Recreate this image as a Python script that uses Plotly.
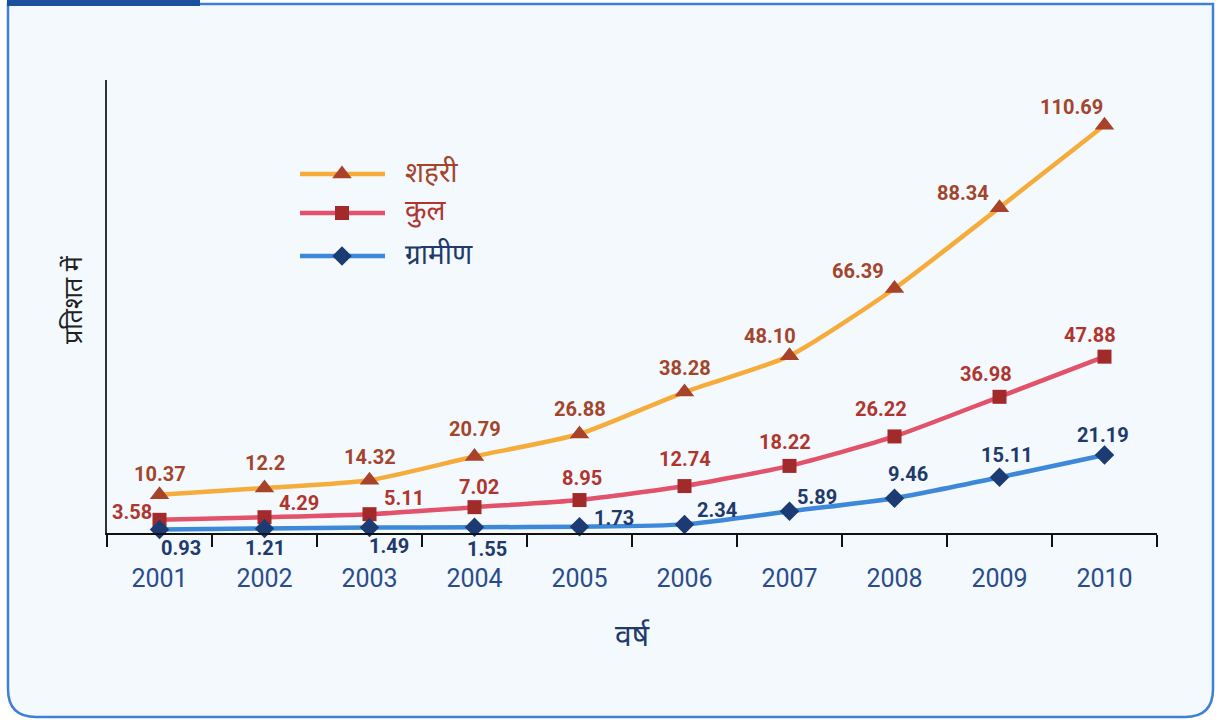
import plotly.graph_objects as go

years = ["2001", "2002", "2003", "2004", "2005", "2006", "2007", "2008", "2009", "2010"]
shahri = [10.37, 12.2, 14.32, 20.79, 26.88, 38.28, 48.10, 66.39, 88.34, 110.69]
kul = [3.58, 4.29, 5.11, 7.02, 8.95, 12.74, 18.22, 26.22, 36.98, 47.88]
gramin = [0.93, 1.21, 1.49, 1.55, 1.73, 2.34, 5.89, 9.46, 15.11, 21.19]
shahri_txt = ["10.37", "12.2", "14.32", "20.79", "26.88", "38.28", "48.10", "66.39", "88.34", "110.69"]
kul_txt = ["3.58", "4.29", "5.11", "7.02", "8.95", "12.74", "18.22", "26.22", "36.98", "47.88"]
gramin_txt = ["0.93", "1.21", "1.49", "1.55", "1.73", "2.34", "5.89", "9.46", "15.11", "21.19"]
names = ["शहरी", "कुल", "ग्रामीण"]

# label offsets (pixels) relative to markers
shahri_off = [(0, 21), (0, 25), (0, 23), (0, 27), (0, 25), (0, 24), (-20, 20), (-37, 17), (-37, 15), (-33, 18)]
kul_off = [(-28, 8), (34, 14), (34, 16), (4, 20), (2, 22), (0, 27), (-5, 24), (-14, 27), (-14, 23), (-15, 22)]
gramin_off = [(21, -18), (0, -19), (19, -18), (12, -22), (34, 9), (32, 14), (27, 14), (13, 24), (7, 22), (-2, 20)]

C_SH_LINE, C_SH_MK, C_SH_TXT = "#f6ac3a", "#a8432a", "#a3452c"
C_K_LINE, C_K_MK, C_K_TXT = "#e2526a", "#a32a2a", "#b0352f"
C_G_LINE, C_G_MK, C_G_TXT = "#3d88d8", "#1d3b73", "#22396b"

LABEL_FONT = "Roboto, Liberation Sans Narrow, sans-serif"
HINDI_FONT = "Noto Sans Devanagari, Lohit Devanagari, FreeSans, sans-serif"

W, H = 1218, 720
ML, MR, MT, MB = 107, 61, 80, 187
PW, PH = W - ML - MR, H - MT - MB


def px(x):
    return (x - ML) / PW


def py(y):
    return (H - MB - y) / PH


fig = go.Figure()

series = [
    (shahri, C_SH_LINE, C_SH_MK, "triangle-up", 17),
    (kul, C_K_LINE, C_K_MK, "square", 14),
    (gramin, C_G_LINE, C_G_MK, "diamond", 15),
]
for vals, lc, mc, sym, ms in series:
    fig.add_trace(go.Scatter(
        x=years, y=vals, mode="lines+markers",
        line=dict(color=lc, width=4.5, shape="spline", smoothing=0.6),
        marker=dict(symbol=sym, size=ms, color=mc),
        showlegend=False, hoverinfo="skip", cliponaxis=False,
    ))

# custom legend on an overlay axis (plot-area fractions)
leg_y = [py(174), py(213), py(256)]
leg_specs = [(C_SH_LINE, C_SH_MK, "triangle-up", 17, C_SH_TXT),
             (C_K_LINE, C_K_MK, "square", 14, C_K_TXT),
             (C_G_LINE, C_G_MK, "diamond", 15, C_G_TXT)]
for (lc, mc, sym, ms, tc), ly, nm in zip(leg_specs, leg_y, names):
    fig.add_trace(go.Scatter(
        x=[px(300), px(342), px(385)], y=[ly, ly, ly], xaxis="x2", yaxis="y2",
        mode="lines", line=dict(color=lc, width=4.5),
        showlegend=False, hoverinfo="skip",
    ))
    fig.add_trace(go.Scatter(
        x=[px(342)], y=[ly], xaxis="x2", yaxis="y2", mode="markers",
        marker=dict(symbol=sym, size=ms, color=mc),
        showlegend=False, hoverinfo="skip",
    ))
    fig.add_annotation(x=px(403), y=ly, xref="x2", yref="y2", text=nm, showarrow=False,
                       xanchor="left", yanchor="middle",
                       font=dict(family=HINDI_FONT, size=28, color=tc))

for vals, txts, offs, col in [(shahri, shahri_txt, shahri_off, C_SH_TXT),
                              (kul, kul_txt, kul_off, C_K_TXT),
                              (gramin, gramin_txt, gramin_off, C_G_TXT)]:
    for i, (v, t, (dx, dy)) in enumerate(zip(vals, txts, offs)):
        fig.add_annotation(x=i, y=v, xref="x", yref="y", text="<b>%s</b>" % t, showarrow=False,
                           xshift=dx, yshift=dy, xanchor="center", yanchor="middle",
                           font=dict(family=LABEL_FONT, size=20, color=col))

# frame: rounded rectangle with blue border and top-left tab
L, R, T, B, r = 8, 1213, 4, 717, 28
path = (f"M {px(L)},{py(T)} L {px(R)},{py(T)} L {px(R)},{py(B - r)} "
        f"Q {px(R)},{py(B)} {px(R - r)},{py(B)} L {px(L + r)},{py(B)} "
        f"Q {px(L)},{py(B)} {px(L)},{py(B - r)} Z")
fig.add_shape(type="path", path=path, xref="paper", yref="paper",
              fillcolor="#f3f9fd", line=dict(color="#3f7fd6", width=2.5), layer="below")
fig.add_shape(type="rect", xref="paper", yref="paper",
              x0=px(7), x1=px(200), y0=py(0), y1=py(6),
              fillcolor="#1c4f9e", line=dict(width=0), layer="below")

# axis titles
fig.add_annotation(x=px(632), y=py(638), xref="paper", yref="paper", text="वर्ष",
                   xanchor="center", yanchor="middle",
                   showarrow=False, font=dict(family=HINDI_FONT, size=30, color="#22396b"))
fig.add_annotation(x=px(75), y=py(300), xref="paper", yref="paper", text="प्रतिशत में",
                   xanchor="center", yanchor="middle",
                   showarrow=False, textangle=-90, font=dict(family=HINDI_FONT, size=25, color="#222222"))

fig.update_layout(
    width=W, height=H,
    margin=dict(l=ML, r=MR, t=MT, b=MB),
    paper_bgcolor="white", plot_bgcolor="rgba(0,0,0,0)",
    xaxis=dict(type="category", range=[-0.5, 9.5], showgrid=False, zeroline=False,
               showline=True, linecolor="#111111", linewidth=2,
               ticks="outside", tickson="boundaries", ticklen=12, tickwidth=1.5, tickcolor="#111111",
               tickfont=dict(family=LABEL_FONT, size=25, color="#2a4c8c"), ticklabelstandoff=22),
    yaxis=dict(range=[0, 123], showgrid=False, zeroline=False, showline=True,
               linecolor="#333333", linewidth=1.5, showticklabels=False, ticks=""),
    xaxis2=dict(range=[0, 1], domain=[0, 1], overlaying="x", visible=False, anchor="y2"),
    yaxis2=dict(range=[0, 1], domain=[0, 1], overlaying="y", visible=False, anchor="x2"),
)

fig.write_html("out.html")
